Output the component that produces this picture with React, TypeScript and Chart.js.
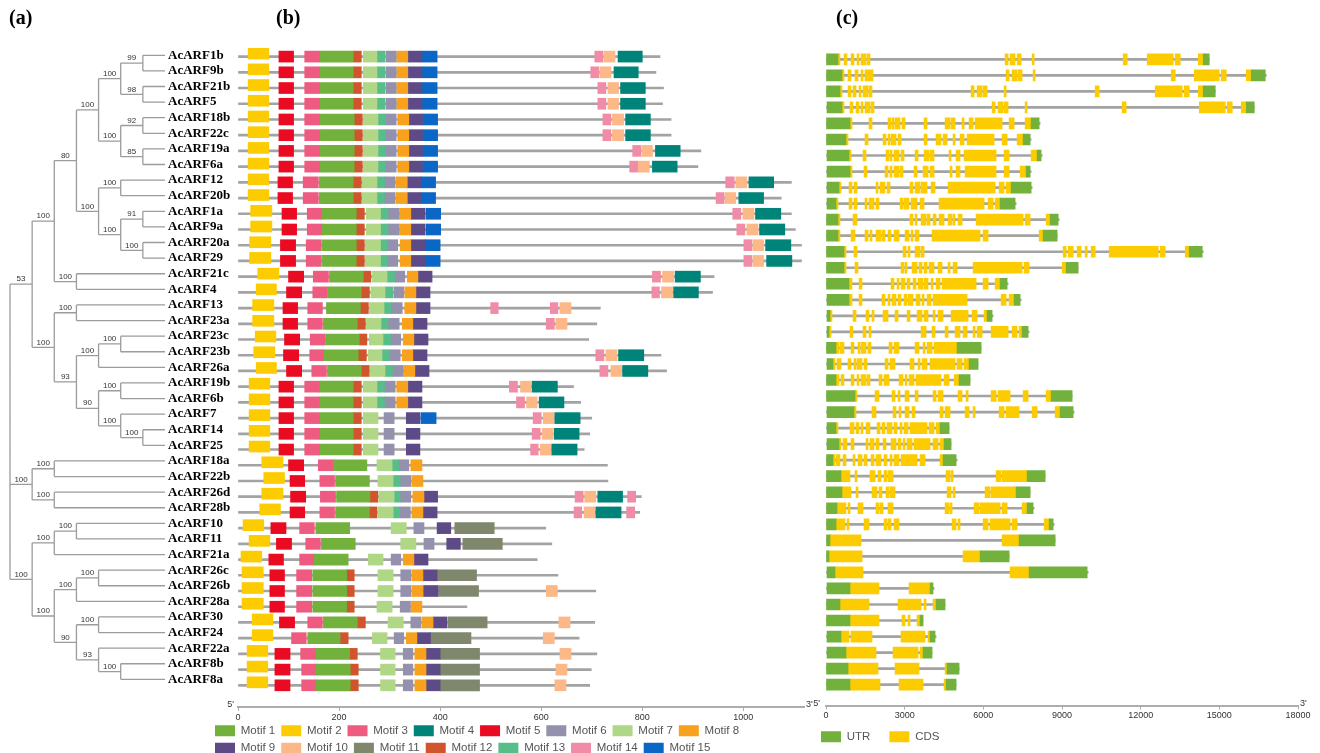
import { useEffect, useRef } from "react";
import { Chart, registerables } from "chart.js";

Chart.register(...registerables);

type Seg = [number, number, number];

// ---------------- (a) tree ----------------
const geneNames = [
  "AcARF1b", "AcARF9b", "AcARF21b", "AcARF5", "AcARF18b", "AcARF22c", "AcARF19a", "AcARF6a",
  "AcARF12", "AcARF20b", "AcARF1a", "AcARF9a", "AcARF20a", "AcARF29", "AcARF21c", "AcARF4",
  "AcARF13", "AcARF23a", "AcARF23c", "AcARF23b", "AcARF26a", "AcARF19b", "AcARF6b", "AcARF7",
  "AcARF14", "AcARF25", "AcARF18a", "AcARF22b", "AcARF26d", "AcARF28b", "AcARF10", "AcARF11",
  "AcARF21a", "AcARF26c", "AcARF26b", "AcARF28a", "AcARF30", "AcARF24", "AcARF22a", "AcARF8b", "AcARF8a",
];

// [clade, children, bootstrap]
const treeClades: [string, string[], number][] = [
  ["A", ["AcARF1b", "AcARF9b"], 99],
  ["B", ["AcARF21b", "AcARF5"], 98],
  ["C", ["A", "B"], 100],
  ["D", ["AcARF18b", "AcARF22c"], 92],
  ["E", ["AcARF19a", "AcARF6a"], 85],
  ["F", ["D", "E"], 100],
  ["G", ["C", "F"], 100],
  ["H", ["AcARF12", "AcARF20b"], 100],
  ["I", ["AcARF1a", "AcARF9a"], 91],
  ["J", ["AcARF20a", "AcARF29"], 100],
  ["K", ["I", "J"], 100],
  ["L", ["H", "K"], 100],
  ["M", ["G", "L"], 80],
  ["N", ["AcARF21c", "AcARF4"], 100],
  ["O", ["M", "N"], 100],
  ["P", ["AcARF13", "AcARF23a"], 100],
  ["Q", ["AcARF23c", "AcARF23b"], 100],
  ["R", ["Q", "AcARF26a"], 100],
  ["S", ["AcARF19b", "AcARF6b"], 100],
  ["T", ["AcARF14", "AcARF25"], 100],
  ["U", ["AcARF7", "T"], 100],
  ["V", ["S", "U"], 90],
  ["W", ["R", "V"], 93],
  ["X", ["P", "W"], 100],
  ["Y", ["O", "X"], 53],
  ["Z1", ["AcARF18a", "AcARF22b"], 100],
  ["Z2", ["AcARF26d", "AcARF28b"], 100],
  ["Z3", ["Z1", "Z2"], 100],
  ["a1", ["AcARF10", "AcARF11"], 100],
  ["a2", ["a1", "AcARF21a"], 100],
  ["a3", ["AcARF26c", "AcARF26b"], 100],
  ["a4", ["a3", "AcARF28a"], 100],
  ["a5", ["AcARF30", "AcARF24"], 100],
  ["a6", ["AcARF8b", "AcARF8a"], 100],
  ["a7", ["AcARF22a", "a6"], 93],
  ["a8", ["a5", "a7"], 90],
  ["a9", ["a4", "a8"], 100],
  ["a10", ["a2", "a9"], 100],
  ["root", ["Y", "Z3", "a10"], 0],
];
const leafDepth = 7;

// ---------------- (b) motifs ----------------
const proteinLengths = [835, 827, 842, 840, 857, 857, 916, 910, 1095, 1075, 1095, 1103, 1115, 1115, 942, 939, 717, 710, 694, 837, 848, 664, 678, 700, 696, 685, 731, 732, 798, 795, 609, 621, 592, 633, 708, 453, 706, 675, 710, 699, 696];

const motif1: Seg[] = [[0,162,228],[1,162,228],[2,162,228],[3,162,228],[4,163,230],[5,163,230],[6,163,230],[7,163,230],[8,161,228],[9,161,228],[10,167,234],[11,167,234],[12,167,234],[13,167,234],[14,181,248],[15,177,244],[16,175,242],[17,169,236],[18,174,240],[19,170,238],[20,177,244],[21,162,228],[22,162,228],[23,162,228],[24,162,228],[25,162,228],[26,189,255],[27,193,260],[28,195,261],[29,193,260],[30,154,221],[31,165,232],[32,151,218],[33,148,215],[34,148,215],[35,148,215],[36,169,236],[37,138,202],[38,154,221],[39,155,222],[40,155,222]];
const motif2: Seg[] = [[0,20,61],[1,20,61],[2,20,61],[3,20,61],[4,20,61],[5,20,61],[6,20,61],[7,20,61],[8,20,61],[9,20,61],[10,25,67],[11,25,67],[12,23,65],[13,23,65],[14,39,81],[15,36,76],[16,29,71],[17,29,71],[18,34,75],[19,31,73],[20,36,76],[21,22,63],[22,22,63],[23,22,63],[24,22,63],[25,22,63],[26,47,89],[27,51,92],[28,47,89],[29,43,84],[30,10,51],[31,22,63],[32,6,47],[33,8,50],[34,8,50],[35,8,50],[36,28,69],[37,28,69],[38,18,59],[39,18,59],[40,18,59]];
const motif3: Seg[] = [[0,132,162],[1,132,162],[2,132,162],[3,132,162],[4,132,162],[5,132,162],[6,132,162],[7,132,162],[8,129,159],[9,129,159],[10,137,167],[11,137,167],[12,135,165],[13,135,165],[14,149,179],[15,148,176],[16,138,167],[17,138,167],[18,143,173],[19,142,170],[20,146,175],[21,132,162],[22,132,162],[23,132,162],[24,132,162],[25,132,162],[26,159,189],[27,162,191],[28,163,193],[29,162,191],[30,122,151],[31,134,163],[32,122,151],[33,116,146],[34,116,146],[35,116,146],[36,138,167],[37,106,135],[38,124,154],[39,126,155],[40,126,155]];
const motif4: Seg[] = [[0,752,800],[1,744,792],[2,757,806],[3,757,806],[4,767,816],[5,767,816],[6,826,875],[7,820,869],[8,1011,1060],[9,991,1040],[10,1024,1074],[11,1032,1082],[12,1044,1094],[13,1046,1096],[14,865,915],[15,862,911],[19,753,803],[20,761,811],[21,582,632],[22,596,645],[23,627,677],[24,626,675],[25,621,671],[28,712,761],[29,708,758]];
const motif5: Seg[] = [[0,81,110],[1,81,110],[2,81,110],[3,81,110],[4,81,110],[5,81,110],[6,81,110],[7,81,110],[8,79,108],[9,79,108],[10,87,116],[11,87,116],[12,84,114],[13,84,114],[14,100,130],[15,96,126],[16,89,118],[17,89,118],[18,92,122],[19,90,120],[20,96,126],[21,81,110],[22,81,110],[23,81,110],[24,81,110],[25,81,110],[26,100,130],[27,103,132],[28,104,134],[29,103,132],[30,65,95],[31,76,106],[32,61,90],[33,63,92],[34,63,92],[35,63,92],[36,82,112],[38,73,103],[39,73,103],[40,73,103]];
const motif6: Seg[] = [[0,293,313],[1,293,313],[2,293,313],[3,293,313],[4,292,313],[5,292,313],[6,292,313],[7,292,313],[8,291,311],[9,291,311],[10,298,319],[11,298,319],[12,297,316],[13,297,316],[14,311,330],[15,309,328],[16,304,325],[17,298,319],[18,303,322],[19,301,321],[20,307,327],[21,291,311],[22,291,311],[23,289,309],[24,289,309],[25,289,309],[26,319,338],[27,322,342],[28,322,342],[29,321,341],[30,348,368],[31,368,388],[32,303,322],[33,322,342],[34,322,342],[35,321,341],[36,342,362],[37,309,328],[38,327,346],[39,327,346],[40,327,346]];
const motif7: Seg[] = [[0,248,275],[1,248,275],[2,248,275],[3,248,275],[4,248,277],[5,248,277],[6,248,277],[7,248,277],[8,246,275],[9,246,275],[10,254,282],[11,254,282],[12,252,282],[13,252,282],[14,266,295],[15,263,291],[16,260,289],[17,254,283],[18,260,287],[19,258,285],[20,261,291],[21,248,275],[22,248,275],[23,248,277],[24,248,277],[25,248,277],[26,275,305],[27,277,307],[28,279,309],[29,277,307],[30,303,333],[31,322,352],[32,258,287],[33,277,307],[34,277,307],[35,275,305],[36,297,327],[37,266,295],[38,282,311],[39,282,311],[40,282,311]];
const motif8: Seg[] = [[0,314,336],[1,314,336],[2,314,336],[3,314,336],[4,316,338],[5,316,338],[6,316,338],[7,316,338],[8,313,335],[9,313,335],[10,320,342],[11,320,342],[12,321,342],[13,321,342],[14,335,356],[15,330,352],[16,330,352],[17,325,346],[18,327,348],[19,325,346],[20,328,350],[21,314,336],[22,314,336],[26,342,364],[27,344,366],[28,346,368],[29,344,366],[32,327,348],[33,344,366],[34,344,366],[35,342,364],[36,364,386],[37,333,354],[38,350,372],[39,350,372],[40,350,372]];
const motif9: Seg[] = [[0,336,364],[1,336,364],[2,336,364],[3,336,364],[4,338,365],[5,338,365],[6,338,365],[7,338,365],[8,335,362],[9,335,362],[10,342,370],[11,342,370],[12,342,370],[13,342,370],[14,356,384],[15,352,380],[16,352,380],[17,346,374],[18,348,376],[19,346,374],[20,350,378],[21,336,364],[22,336,364],[23,333,360],[24,333,360],[25,333,360],[28,368,395],[29,366,394],[30,394,421],[31,413,440],[32,348,376],[33,366,394],[34,367,396],[36,386,413],[37,354,381],[38,372,400],[39,372,400],[40,372,400]];
const motif10: Seg[] = [[0,724,746],[1,716,738],[2,732,753],[3,732,753],[4,741,763],[5,741,763],[6,799,820],[7,792,814],[8,985,1007],[9,964,985],[10,999,1021],[11,1007,1029],[12,1019,1040],[13,1019,1040],[14,840,862],[15,838,860],[16,637,659],[17,629,651],[19,728,750],[20,738,759],[21,559,580],[22,571,592],[23,604,626],[24,602,624],[25,598,620],[28,686,708],[29,685,706],[34,610,632],[36,635,657],[37,604,626],[38,637,659],[39,629,651],[40,627,649]];
const motif11: Seg[] = [[30,429,507],[31,445,523],[33,394,472],[34,397,476],[36,415,493],[37,381,461],[38,400,478],[39,400,478],[40,400,478]];
const motif12: Seg[] = [[0,228,244],[1,228,244],[2,228,244],[3,228,244],[4,230,246],[5,230,246],[6,230,246],[7,230,246],[8,228,244],[9,228,244],[10,234,250],[11,234,250],[12,234,250],[13,234,250],[14,248,263],[15,244,260],[16,242,258],[17,236,252],[18,240,255],[19,238,254],[20,244,260],[21,228,244],[22,228,244],[23,228,244],[24,228,244],[25,228,244],[28,261,277],[29,260,275],[33,215,230],[34,215,230],[35,215,230],[36,236,252],[37,202,218],[38,221,236],[39,222,238],[40,222,238]];
const motif13: Seg[] = [[0,275,291],[1,275,291],[2,275,291],[3,275,291],[4,277,292],[5,277,292],[6,277,292],[7,277,292],[8,275,291],[9,275,291],[10,282,298],[11,282,298],[12,282,297],[13,282,297],[14,295,311],[15,291,307],[16,289,304],[17,283,298],[18,287,303],[19,285,301],[20,291,307],[21,275,291],[22,275,291],[26,305,319],[27,307,322],[28,309,322],[29,307,321]];
const motif14: Seg[] = [[0,706,722],[1,698,714],[2,712,728],[3,712,728],[4,722,738],[5,722,738],[6,781,797],[7,775,791],[8,965,982],[9,946,962],[10,979,995],[11,987,1003],[12,1001,1017],[13,1001,1017],[14,820,836],[15,819,834],[16,500,515],[16,618,633],[17,610,626],[19,708,724],[20,716,732],[21,537,553],[22,551,567],[23,584,600],[24,582,598],[25,579,594],[28,667,683],[28,771,787],[29,665,680],[29,769,785]];
const motif15: Seg[] = [[0,364,394],[1,364,394],[2,364,394],[3,364,394],[4,365,395],[5,365,395],[6,365,395],[7,365,395],[8,362,391],[9,362,391],[10,372,401],[11,372,401],[12,370,400],[13,370,400],[23,362,392]];

const motifLabels = ["Motif 1", "Motif 2", "Motif 3", "Motif 4", "Motif 5", "Motif 6", "Motif 7", "Motif 8", "Motif 9", "Motif 10", "Motif 11", "Motif 12", "Motif 13", "Motif 14", "Motif 15"];
const motifTickValues = [0, 200, 400, 600, 800, 1000];

// ---------------- (c) gene structure ----------------
const geneLengths = [14615, 16790, 14844, 16332, 8166, 7823, 8243, 7823, 7861, 7250, 8891, 8815, 14386, 9616, 6945, 7441, 6373, 7747, 5915, 5800, 5495, 9387, 9463, 4694, 4770, 4999, 8357, 7785, 7937, 8700, 8739, 6983, 9998, 4121, 4541, 3702, 4198, 4045, 5075, 4961];

const utrParts: Seg[] = [
  [0,0,458],[0,14386,14615],[1,0,611],[1,16218,16752],[2,0,534],[2,14386,14844],[3,38,611],[3,16027,16332],
  [4,0,916],[4,7823,8128],[5,0,763],[5,7518,7785],[6,38,878],[6,8052,8204],[7,38,916],[7,7632,7785],
  [8,38,496],[8,7060,7823],[9,38,382],[9,6640,7212],[10,0,458],[10,8548,8853],[11,0,458],[11,8281,8815],
  [12,0,687],[12,13852,14348],[13,0,687],[13,9158,9616],[14,0,878],[14,6640,6907],[15,38,878],[15,7174,7403],
  [16,38,153],[16,6144,6335],[17,38,114],[17,7479,7708],[18,0,382],[18,4998,5915],[19,38,267],[19,5457,5800],
  [20,0,382],[20,5075,5495],[21,0,1107],[21,8586,9387],[22,38,1068],[22,8929,9425],[23,38,382],[23,4350,4694],
  [24,38,496],[24,4503,4770],[25,0,267],[25,4465,4961],[26,0,572],[26,7670,8357],[27,0,611],[27,7250,7785],
  [28,0,420],[28,7670,7899],[29,0,382],[29,8510,8662],[30,0,153],[30,7365,8739],[31,0,114],[31,5877,6983],
  [32,38,343],[32,7747,9960],[33,38,916],[33,3969,4083],[34,0,534],[34,4198,4541],[35,0,916],[35,3587,3702],
  [36,38,572],[36,3969,4159],[37,38,763],[37,3702,4045],[38,0,840],[38,4617,5075],[39,0,916],[39,4579,4961],
];

const cdsParts: Seg[] = [
  [0,458,534],[0,687,801],[0,954,1068],[0,1183,1259],[0,1336,1526],[0,1565,1679],[0,6831,6945],[0,7021,7212],[0,7289,7441],[0,7861,7937],[0,11333,11486],[0,12249,13242],[0,13318,13509],[0,14196,14386],
  [1,611,687],[1,840,954],[1,1107,1221],[1,1336,1412],[1,1488,1794],[1,6869,6983],[1,7098,7289],[1,7327,7479],[1,7899,7975],[1,13165,13318],[1,14043,14997],[1,15073,15264],[1,16027,16218],
  [2,534,611],[2,840,954],[2,1030,1145],[2,1259,1336],[2,1412,1603],[2,1641,1755],[2,5533,5648],[2,5762,5953],[2,5991,6144],[2,6792,6869],[2,10265,10418],[2,12555,13585],[2,13661,13852],[2,14196,14386],
  [3,611,687],[3,916,1030],[3,1145,1259],[3,1336,1412],[3,1488,1679],[3,1717,1832],[3,6335,6449],[3,6563,6754],[3,6792,6945],[3,7594,7670],[3,11295,11448],[3,14234,15226],[3,15302,15493],[3,15836,16027],
  [4,916,992],[4,1641,1755],[4,2366,2480],[4,2519,2595],[4,2633,2824],[4,2900,3015],[4,3740,3854],[4,4541,4732],[4,4770,4923],[4,5190,5266],[4,5457,5610],[4,5686,6716],[4,6983,7174],[4,7594,7823],
  [5,763,840],[5,1488,1603],[5,2175,2290],[5,2366,2442],[5,2480,2671],[5,2748,2862],[5,3740,3854],[5,4198,4388],[5,4465,4617],[5,4846,4923],[5,5113,5266],[5,5381,6411],[5,6716,6907],[5,7289,7518],
  [6,878,954],[6,1412,1526],[6,2290,2404],[6,2442,2519],[6,2595,2786],[6,2862,2976],[6,3396,3511],[6,3740,3930],[6,3969,4121],[6,4694,4770],[6,4961,5113],[6,5266,6487],[6,6792,6983],[6,7823,8052],
  [7,916,992],[7,1450,1565],[7,2252,2366],[7,2442,2519],[7,2595,2786],[7,2824,2938],[7,3358,3473],[7,3702,3892],[7,3969,4121],[7,4732,4808],[7,4961,5113],[7,5304,6487],[7,6792,6983],[7,7403,7632],
  [8,496,572],[8,878,992],[8,1068,1183],[8,1908,1984],[8,2061,2252],[8,2328,2442],[8,3205,3320],[8,3396,3587],[8,3625,3854],[8,4007,4159],[8,4655,6449],[8,6602,6792],[8,6869,7060],
  [9,382,458],[9,878,992],[9,1068,1183],[9,1488,1565],[9,1641,1832],[9,1908,2022],[9,2824,2938],[9,2976,3167],[9,3244,3473],[9,3587,3740],[9,4312,6029],[9,6182,6373],[9,6449,6640],
  [10,458,534],[10,1030,1183],[10,3205,3320],[10,3396,3473],[10,3625,3816],[10,3854,3969],[10,4083,4198],[10,4312,4503],[10,4655,4808],[10,4846,4923],[10,5037,5190],[10,5724,7518],[10,7594,7785],[10,8395,8548],
  [11,458,534],[11,954,1107],[11,1488,1603],[11,1679,1755],[11,1908,2099],[11,2137,2252],[11,2366,2480],[11,2595,2786],[11,3015,3167],[11,3244,3320],[11,3396,3549],[11,4045,5877],[11,5991,6182],[11,8128,8281],
  [12,687,763],[12,1068,1183],[12,2938,3053],[12,3129,3205],[12,3396,3587],[12,3625,3740],[12,9044,9158],[12,9235,9426],[12,9578,9731],[12,9883,9960],[12,10112,10265],[12,10799,12669],[12,12745,12936],[12,13700,13852],
  [13,687,763],[13,1107,1221],[13,2862,2976],[13,3015,3091],[13,3282,3473],[13,3549,3663],[13,3740,3854],[13,3930,4121],[13,4274,4427],[13,4655,4732],[13,4846,4999],[13,5610,7479],[13,7556,7747],[13,9006,9158],
  [14,878,992],[14,1259,1374],[14,2480,2595],[14,2710,2786],[14,2862,3015],[14,3091,3205],[14,3320,3434],[14,3511,3702],[14,3740,3892],[14,4007,4083],[14,4198,4350],[14,4427,5724],[14,5991,6182],[14,6449,6640],
  [15,878,992],[15,1259,1374],[15,2137,2252],[15,2366,2442],[15,2519,2671],[15,2748,2862],[15,2976,3091],[15,3129,3320],[15,3434,3587],[15,3663,3740],[15,3854,4007],[15,4083,5381],[15,6678,6869],[15,6983,7174],
  [16,153,229],[16,1030,1145],[16,1526,1641],[16,1755,1832],[16,2175,2366],[16,2633,2748],[16,3091,3205],[16,3473,3663],[16,3740,3892],[16,4083,4159],[16,4274,4465],[16,4770,5419],[16,5572,5762],[16,6029,6144],
  [17,114,191],[17,916,1030],[17,1412,1526],[17,1641,1717],[17,3625,3816],[17,4045,4159],[17,4541,4655],[17,4923,5113],[17,5228,5381],[17,5610,5686],[17,5762,5953],[17,6296,6945],[17,7098,7289],[17,7365,7479],
  [18,382,496],[18,534,687],[18,954,1068],[18,1221,1297],[18,1336,1526],[18,1603,1717],[18,2404,2519],[18,2595,2786],[18,3396,3549],[18,3702,3778],[18,3854,4045],[18,4121,4998],
  [19,267,343],[19,420,572],[19,840,954],[19,1068,1145],[19,1183,1374],[19,1450,1565],[19,2252,2366],[19,2442,2633],[19,3205,3358],[19,3511,3587],[19,3663,3854],[19,3969,4923],[19,4999,5190],[19,5266,5457],
  [20,382,496],[20,572,687],[20,954,1068],[20,1183,1259],[20,1336,1526],[20,1565,1679],[20,2022,2137],[20,2213,2404],[20,2786,2938],[20,3015,3091],[20,3167,3358],[20,3434,4388],[20,4503,4694],[20,4888,5075],
  [21,1107,1183],[21,1870,2022],[21,2519,2633],[21,2748,2824],[21,3015,3167],[21,3396,3511],[21,4083,4198],[21,4274,4465],[21,5037,5190],[21,5342,5419],[21,6296,6487],[21,6563,7021],[21,7518,7708],[21,8395,8586],
  [22,1068,1145],[22,1755,1908],[22,2557,2671],[22,2786,2862],[22,3015,3167],[22,3282,3396],[22,4350,4465],[22,4541,4732],[22,5304,5457],[22,5610,5686],[22,6602,6792],[22,6869,7365],[22,7861,8052],[22,8739,8929],
  [23,382,458],[23,916,1068],[23,1145,1259],[23,1336,1412],[23,1527,1679],[23,1947,2061],[23,2137,2252],[23,2328,2519],[23,2595,2710],[23,2824,2900],[23,2976,3129],[23,3205,3854],[23,3930,4121],[23,4198,4350],
  [24,496,572],[24,649,801],[24,954,1068],[24,1526,1603],[24,1679,1832],[24,1908,2022],[24,2175,2290],[24,2480,2671],[24,2748,2862],[24,2938,3015],[24,3091,3282],[24,3358,3969],[24,4083,4274],[24,4350,4503],
  [25,267,343],[25,382,534],[25,649,763],[25,1030,1107],[25,1221,1374],[25,1450,1565],[25,1717,1832],[25,1908,2099],[25,2213,2328],[25,2442,2519],[25,2595,2786],[25,2862,3473],[25,3587,3778],[25,4350,4465],
  [26,572,916],[26,1107,1183],[26,1679,1870],[26,1984,2099],[26,2213,2328],[26,2366,2557],[26,4579,4732],[26,4770,4846],[26,6487,6678],[26,6716,7670],
  [27,611,954],[27,1145,1221],[27,1755,1946],[27,2022,2137],[27,2290,2404],[27,2442,2633],[27,4617,4770],[27,4846,4923],[27,6067,6258],[27,6296,7250],
  [28,420,763],[28,840,916],[28,1221,1412],[28,1908,2022],[28,2061,2175],[28,2366,2557],[28,4541,4694],[28,4732,4808],[28,5648,5838],[28,5877,6640],[28,6716,6907],[28,7479,7670],
  [29,382,725],[29,801,878],[29,1450,1641],[29,2213,2328],[29,2366,2480],[29,2595,2786],[29,4808,4961],[29,5037,5113],[29,5991,6182],[29,6258,7021],[29,7098,7289],[29,8319,8510],
  [30,153,1336],[30,6716,7365],
  [31,114,1374],[31,5228,5877],
  [32,343,1412],[32,7021,7747],
  [33,916,2022],[33,3167,3969],
  [34,534,1641],[34,2748,3625],[34,3740,3816],[34,4083,4198],
  [35,916,2022],[35,2900,3015],[35,3129,3205],[35,3473,3587],
  [36,572,878],[36,954,1755],[36,2862,3778],[36,3892,3969],
  [37,763,1908],[37,2557,3511],[37,3587,3702],
  [38,840,1984],[38,2633,3549],[38,4541,4617],
  [39,916,2061],[39,2786,3701],[39,4503,4579],
];

const structureLabels = ["UTR", "CDS"];
const geneTickValues = [0, 3000, 6000, 9000, 12000, 15000, 18000];
const strandLabels = ["5'", "3'"];
const panelLabels = ["(a)", "(b)", "(c)"];

// ---------------- styles ----------------
const motifColors = ["#71b13c", "#fccc00", "#ef5a80", "#008479", "#ea0a22", "#9391ae", "#b0d785", "#f8a11c", "#5d4a87", "#fcb886", "#7f886d", "#d0552d", "#57bd89", "#f18ca8", "#0b67c6"];
const UTR_COLOR = "#71b13c";
const CDS_COLOR = "#fccc00";
const LINE_COLOR = "#a3a3a3";
const AXIS_COLOR = "#adadad";
const SANS = "Liberation Sans";

const strandPlugin = (gapLeft: number, gapRight: number) => ({
  id: "strandEnds",
  afterDraw(chart: any) {
    const x = chart.scales.x;
    const ctx = chart.ctx;
    ctx.save();
    ctx.font = `9px ${SANS}`;
    ctx.fillStyle = "#333";
    ctx.textBaseline = "middle";
    ctx.textAlign = "right";
    ctx.fillText(strandLabels[0], x.left - gapLeft, x.top - 2);
    ctx.textAlign = "left";
    ctx.fillText(strandLabels[1], x.right + gapRight, x.top - 2);
    ctx.restore();
  },
});

// put the first legend row's boxes at a given y (canvas px)
const legendRowPlugin = (rowTop: number) => ({
  id: "legendRow",
  afterLayout(chart: any) {
    const lg = chart.legend;
    if (!lg) return;
    const pad = lg.options.labels.padding;
    const h = lg.height;
    lg.top = rowTop - pad;
    lg.bottom = lg.top + h;
  },
});

function xAxis(max: number, ticks: number[]) {
  return {
    type: "linear",
    min: 0,
    max,
    afterBuildTicks: (s: any) => {
      s.ticks = ticks.map((v) => ({ value: v }));
    },
    afterFit: (s: any) => {
      s.height = 16;
      s.paddingLeft = 0;
      s.paddingRight = 0;
    },
    ticks: {
      autoSkip: false,
      maxRotation: 0,
      padding: 1,
      color: "#333",
      font: { family: SANS, size: 9 },
      callback: (v: any) => String(v),
    },
    grid: { drawOnChartArea: false, drawTicks: true, tickLength: 4, tickColor: AXIS_COLOR, color: AXIS_COLOR },
    border: { display: true, color: AXIS_COLOR, width: 2 },
  };
}

function yRows(min: number, max: number, width: number) {
  return {
    type: "linear",
    reverse: true,
    offset: false,
    min,
    max,
    afterFit: (s: any) => {
      s.width = width;
      s.paddingTop = 0;
      s.paddingBottom = 0;
    },
    ticks: { display: false },
    grid: { display: false, drawTicks: false },
    border: { display: false },
  };
}

function treeConfig(): any {
  const clade = new Map(treeClades.map((c) => [c[0], c]));
  const depth = new Map<string, number>();
  const ypos = new Map<string, number>();
  geneNames.forEach((n, i) => {
    depth.set(n, leafDepth);
    ypos.set(n, i);
  });
  const setDepth = (name: string, d: number) => {
    const c = clade.get(name);
    if (!c) return;
    depth.set(name, d);
    c[1].forEach((ch) => setDepth(ch, d + 1));
  };
  setDepth("root", 0);
  const getY = (name: string): number => {
    if (ypos.has(name)) return ypos.get(name)!;
    const ys = clade.get(name)![1].map(getY);
    const y = (ys[0] + ys[ys.length - 1]) / 2;
    ypos.set(name, y);
    return y;
  };
  getY("root");

  const pts: any[] = [];
  const labels: { x: number; y: number; t: string }[] = [];
  treeClades.forEach(([name, children]) => {
    const d = depth.get(name)!;
    const ys = children.map((ch) => ypos.get(ch)!);
    pts.push({ x: d, y: ys[0] }, { x: d, y: ys[ys.length - 1] }, { x: d, y: null });
    children.forEach((ch) => {
      const cy = ypos.get(ch)!;
      pts.push({ x: d, y: cy }, { x: depth.get(ch)!, y: cy }, { x: d, y: null });
      const cc = clade.get(ch);
      if (cc) labels.push({ x: (d + depth.get(ch)!) / 2, y: cy, t: String(cc[2]) });
    });
  });

  const supportPlugin = {
    id: "support",
    afterDatasetsDraw(chart: any) {
      const { ctx, scales } = chart;
      ctx.save();
      ctx.font = `8px ${SANS}`;
      ctx.fillStyle = "#333";
      ctx.textAlign = "center";
      ctx.textBaseline = "bottom";
      labels.forEach((l) => {
        ctx.fillText(l.t, scales.x.getPixelForValue(l.x), scales.y.getPixelForValue(l.y) - 1);
      });
      ctx.restore();
    },
  };

  return {
    type: "scatter",
    data: {
      datasets: [
        {
          data: pts,
          showLine: true,
          spanGaps: false,
          borderColor: "#9c9c9c",
          borderWidth: 1.3,
          pointRadius: 0,
          tension: 0,
        },
      ],
    },
    options: {
      responsive: false,
      animation: false,
      devicePixelRatio: 1,
      events: [],
      layout: { padding: 0 },
      scales: {
        x: { type: "linear", min: -0.4516, max: leafDepth, display: false },
        y: {
          type: "linear",
          position: "right",
          reverse: true,
          min: -3.545,
          max: 44.72,
          afterBuildTicks: (s: any) => {
            s.ticks = geneNames.map((_, i) => ({ value: i }));
          },
          afterFit: (s: any) => {
            s.width = 70;
            s.paddingTop = 0;
            s.paddingBottom = 0;
          },
          ticks: {
            autoSkip: false,
            padding: 3,
            color: "#000",
            font: { family: "Liberation Serif", size: 13, weight: "bold" },
            callback: (v: any) => geneNames[v],
          },
          grid: { display: false, drawTicks: false, tickLength: 0 },
          border: { display: false },
        },
      },
      plugins: { legend: { display: false }, tooltip: { enabled: false } },
    },
    plugins: [supportPlugin],
  };
}

function motifConfig(): any {
  const motifData = [motif1, motif2, motif3, motif4, motif5, motif6, motif7, motif8, motif9, motif10, motif11, motif12, motif13, motif14, motif15];
  const datasets: any[] = motifData.map((segs, k) => ({
    label: motifLabels[k],
    data: segs.map(([row, s, e]) => ({ y: k === 1 ? row - 0.19 : row, x: [s, e] })),
    backgroundColor: motifColors[k],
    borderWidth: 0,
    barThickness: 11,
    grouped: false,
  }));
  datasets.push({
    label: "backbone",
    data: proteinLengths.map((len, row) => ({ y: row, x: [0, len] })),
    backgroundColor: LINE_COLOR,
    borderWidth: 0,
    barThickness: 2,
    grouped: false,
  });
  return {
    type: "bar",
    data: { datasets },
    options: {
      indexAxis: "y",
      responsive: false,
      animation: false,
      devicePixelRatio: 1,
      events: [],
      layout: { padding: { top: 48, right: 12, left: 0, bottom: 0 } },
      scales: {
        x: xAxis(1120, motifTickValues),
        y: yRows(-0.547, 41.38, 29),
      },
      plugins: {
        tooltip: { enabled: false },
        legend: {
          display: true,
          position: "bottom",
          align: "start",
          labels: {
            boxWidth: 20,
            boxHeight: 11,
            padding: 6,
            color: "#555",
            font: { family: SANS, size: 11.5 },
            filter: (item: any) => item.datasetIndex < motifLabels.length,
          },
        },
      },
    },
    plugins: [strandPlugin(4, 2), legendRowPlugin(725)],
  };
}

function geneConfig(): any {
  const toBars = (segs: Seg[]) => segs.map(([row, s, e]) => ({ y: row, x: [s, e] }));
  return {
    type: "bar",
    data: {
      datasets: [
        { label: structureLabels[0], data: toBars(utrParts), backgroundColor: UTR_COLOR, borderWidth: 0, barThickness: 11, grouped: false },
        { label: structureLabels[1], data: toBars(cdsParts), backgroundColor: CDS_COLOR, borderWidth: 0, barThickness: 11, grouped: false },
        {
          label: "backbone",
          data: geneLengths.map((len, row) => ({ y: row, x: [0, len] })),
          backgroundColor: LINE_COLOR,
          borderWidth: 0,
          barThickness: 2,
          grouped: false,
        },
      ],
    },
    options: {
      indexAxis: "y",
      responsive: false,
      animation: false,
      devicePixelRatio: 1,
      events: [],
      layout: { padding: { top: 48, right: 14, left: 0, bottom: 0 } },
      scales: {
        x: xAxis(18000, geneTickValues),
        y: yRows(-0.705, 40.3, 24),
      },
      plugins: {
        tooltip: { enabled: false },
        legend: {
          display: true,
          position: "bottom",
          align: "start",
          labels: {
            boxWidth: 20,
            boxHeight: 11,
            padding: 19,
            color: "#555",
            font: { family: SANS, size: 11.5 },
            filter: (item: any) => item.datasetIndex < structureLabels.length,
          },
        },
      },
    },
    plugins: [strandPlugin(6, 2), legendRowPlugin(731)],
  };
}

const headerStyle: any = {
  position: "absolute",
  top: 6,
  fontFamily: "Liberation Serif",
  fontWeight: "bold",
  fontSize: 20,
  lineHeight: "22px",
  color: "#000",
};

export default function App() {
  const treeRef = useRef<HTMLCanvasElement>(null);
  const motifRef = useRef<HTMLCanvasElement>(null);
  const geneRef = useRef<HTMLCanvasElement>(null);

  useEffect(() => {
    const charts = [
      new Chart(treeRef.current as HTMLCanvasElement, treeConfig()),
      new Chart(motifRef.current as HTMLCanvasElement, motifConfig()),
      new Chart(geneRef.current as HTMLCanvasElement, geneConfig()),
    ];
    return () => charts.forEach((c) => c.destroy());
  }, []);

  return (
    <div style={{ position: "fixed", left: 0, top: 0, width: 1320, height: 753, overflow: "hidden", background: "#fff" }}>
      <canvas ref={treeRef} width={235} height={753} style={{ position: "absolute", left: 0, top: 0 }} />
      <canvas ref={motifRef} width={607} height={768} style={{ position: "absolute", left: 209, top: 0 }} />
      <canvas ref={geneRef} width={510} height={762} style={{ position: "absolute", left: 802, top: 0 }} />
      <div style={{ ...headerStyle, left: 9 }}>{panelLabels[0]}</div>
      <div style={{ ...headerStyle, left: 276 }}>{panelLabels[1]}</div>
      <div style={{ ...headerStyle, left: 836 }}>{panelLabels[2]}</div>
    </div>
  );
}
